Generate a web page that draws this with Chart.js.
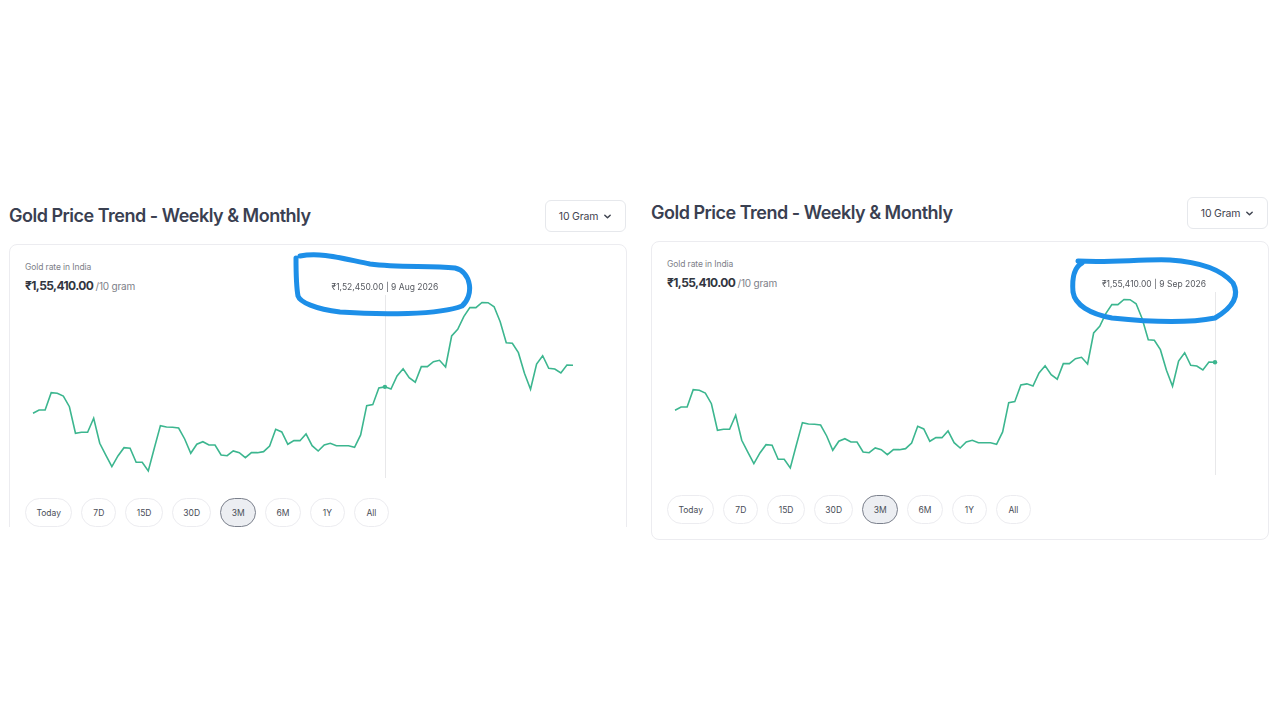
<!DOCTYPE html>
<html>
<head>
<meta charset="utf-8">
<script src="https://cdn.jsdelivr.net/npm/chart.js@4.4.1/dist/chart.umd.min.js"></script>
<style>
  html, body { margin: 0; padding: 0; background: #fff; }
  body { width: 1280px; height: 720px; position: relative; overflow: hidden; font-family: Inter, 'Noto Sans', sans-serif; }
  .panel { position: absolute; width: 640px; height: 560px; }
  .clip { position: absolute; left: 0; top: 0; width: 640px; height: 527px; overflow: hidden; }
  .title { position: absolute; left: 9px; top: 204px; margin: 0; font-size: 18px; line-height: 24px; font-weight: 600; color: #3a4051; white-space: nowrap; letter-spacing: -0.5px; }
  .unit { position: absolute; left: 545px; top: 200px; width: 81px; height: 32px; box-sizing: border-box; border: 1px solid #e6e8ec; border-radius: 6px; font-size: 10.5px; color: #3f4450; display: flex; align-items: center; justify-content: center; gap: 5px; letter-spacing: -0.2px; }
  .unit svg { width: 9px; height: 9px; }
  .card { position: absolute; left: 9px; top: 244px; width: 618px; height: 299px; box-sizing: border-box; border: 1px solid #ececf0; border-radius: 8px; }
  .sub { position: absolute; left: 25px; top: 261px; font-size: 8.5px; line-height: 12px; color: #7d8088; letter-spacing: -0.1px; }
  .price { position: absolute; left: 25px; top: 278px; font-size: 12px; line-height: 16px; font-weight: 700; color: #32363f; white-space: nowrap; letter-spacing: -0.6px; }
  .price span { font-size: 10px; font-weight: 400; color: #7d8088; letter-spacing: -0.2px; }
  canvas { position: absolute; left: 25px; top: 275px; }
  .ranges { position: absolute; left: 25px; top: 498px; display: flex; gap: 9px; }
  .ranges div { height: 29px; min-width: 35px; padding: 0 10.4px; box-sizing: border-box; border: 1px solid #ececf0; border-radius: 15px; font-size: 8.5px; color: #4a4e58; display: flex; align-items: center; justify-content: center; }
  .ranges div.on { background: #eceef2; border-color: #7b808c; }
  svg.ink { position: absolute; left: 0; top: 0; }
</style>
</head>
<body>
<svg class="ink" width="1280" height="720">
  <path d="M300 256 C 320 252, 340 258, 370 264 C 400 268, 430 265, 455 268 C 472 272, 474 296, 462 306 C 440 315, 380 315, 340 312 C 315 309, 300 302, 298 296 C 296 285, 296 268, 296 258"
        fill="none" stroke="#1d8fe8" stroke-width="5" stroke-linecap="round" stroke-linejoin="round"/>
  <path d="M1078 261 C 1110 263, 1140 259, 1170 260 C 1200 262, 1222 270, 1233 283 C 1240 296, 1232 308, 1215 318 C 1190 323, 1150 322, 1112 318 C 1090 314, 1075 305, 1073 292 C 1072 280, 1073 268, 1082 263"
        fill="none" stroke="#1d8fe8" stroke-width="5" stroke-linecap="round" stroke-linejoin="round"/>
</svg>
<script>
// 3M daily rate (10 gram), 12 Jun 2026 .. 9 Sep 2026
const startDate = new Date(2026, 5, 12);
const rangeLabels = ['Today', '7D', '15D', '30D', '3M', '6M', '1Y', 'All'];
const activeRange = '3M';
const prices = [
    148840, 149290, 149290, 151650, 151570, 151200, 149740, 146110, 146240, 146240,
    148160, 144740, 143140, 141550, 143010, 144140, 144060, 142150, 142150, 140960,
    144100, 147150, 146970, 146930, 146830, 145330, 143380, 144610, 144960, 144510,
    144510, 143140, 143050, 143690, 143460, 142780, 143460, 143460, 143600, 144370,
    146650, 146290, 144610, 145100, 145100, 146010, 144410, 143690, 144510, 144740,
    144410, 144410, 144410, 144200, 145880, 149880, 150020, 152300, 152450, 152160,
    153940, 154930, 153700, 153080, 155210, 155210, 155890, 156080, 155170, 159400,
    160320, 162040, 163270, 163270, 163980, 163950, 163400, 161350, 158480, 158400,
    157120, 154300, 152120, 155570, 156710, 154990, 154890, 154350, 155440, 155410
];
const currentPrice = 155410;
const monthNames = ['Jan', 'Feb', 'Mar', 'Apr', 'May', 'Jun', 'Jul', 'Aug', 'Sep', 'Oct', 'Nov', 'Dec'];
const dates = prices.map((p, i) => {
    const d = new Date(startDate.getFullYear(), startDate.getMonth(), startDate.getDate() + i);
    return d.getDate() + ' ' + monthNames[d.getMonth()] + ' ' + d.getFullYear();
});

// indian grouping: 1,55,410.00
function formatINR(v) {
    const s = Math.round(v).toString();
    let last3 = s.slice(-3);
    let rest = s.slice(0, -3);
    if (rest) rest = rest.replace(/\B(?=(\d{2})+(?!\d))/g, ',') + ',';
    return '\u20B9' + rest + last3 + '.00';
}

const hoverGuide = {
    id: 'hoverGuide',
    beforeDatasetsDraw(chart, args, opts) {
        const { ctx, chartArea } = chart;
        const pt = chart.getDatasetMeta(0).data[opts.index];
        ctx.save();
        ctx.strokeStyle = '#e8e8ea';
        ctx.lineWidth = 1;
        ctx.beginPath();
        ctx.moveTo(Math.round(pt.x) + 0.5, chartArea.top);
        ctx.lineTo(Math.round(pt.x) + 0.5, chartArea.bottom);
        ctx.stroke();
        ctx.restore();
    },
    afterDatasetsDraw(chart, args, opts) {
        const { ctx, chartArea } = chart;
        const pt = chart.getDatasetMeta(0).data[opts.index];
        ctx.save();
        ctx.fillStyle = '#3cb68f';
        ctx.beginPath();
        ctx.arc(pt.x, pt.y, 2.2, 0, Math.PI * 2);
        ctx.fill();
        const text = formatINR(prices[opts.index]) + ' | ' + dates[opts.index];
        ctx.font = '8.5px Inter, "Noto Sans", sans-serif';
        const w = ctx.measureText(text).width;
        let cx = Math.min(pt.x, chartArea.right - 9 - w / 2);
        cx = Math.max(cx, chartArea.left + w / 2);
        ctx.fillStyle = '#55585f';
        ctx.textAlign = 'center';
        ctx.textBaseline = 'middle';
        ctx.fillText(text, cx, chartArea.top - 8);
        ctx.restore();
    }
};

function buildPanel(left, top, hoverIndex, clipped) {
    const panel = document.createElement('div');
    panel.className = 'panel';
    panel.style.left = left + 'px';
    panel.style.top = top + 'px';
    const host = clipped ? document.createElement('div') : panel;
    if (clipped) { host.className = 'clip'; panel.appendChild(host); }

    host.innerHTML = `
        <h2 class="title">Gold Price Trend - Weekly &amp; Monthly</h2>
        <div class="unit">10 Gram <svg viewBox="0 0 10 10"><path d="M2 3.5 L5 6.5 L8 3.5" fill="none" stroke="#3f4450" stroke-width="1.6" stroke-linecap="round" stroke-linejoin="round"/></svg></div>
        <div class="card"></div>
        <div class="sub">Gold rate in India</div>
        <div class="price">${formatINR(currentPrice)} <span>/10 gram</span></div>
        <canvas width="556" height="210"></canvas>
        <div class="ranges">${rangeLabels.map(r => `<div class="${r === activeRange ? 'on' : ''}">${r}</div>`).join('')}</div>
    `;
    document.body.insertBefore(panel, document.querySelector('svg.ink'));

    const ctx = host.querySelector('canvas').getContext('2d');
    return new Chart(ctx, {
        type: 'line',
        data: {
            labels: dates,
            datasets: [{
                data: prices,
                borderColor: '#3cb68f',
                borderWidth: 1.6,
                pointRadius: 0,
                tension: 0,
                fill: false
            }]
        },
        options: {
            responsive: false,
            animation: false,
            layout: { padding: { left: 8, right: 8, top: 20, bottom: 7 } },
            scales: {
                x: { display: false },
                y: { display: false, min: 140000, max: 165000 }
            },
            plugins: {
                legend: { display: false },
                tooltip: { enabled: false },
                hoverGuide: { index: hoverIndex }
            }
        },
        plugins: [hoverGuide]
    });
}

buildPanel(0, 0, 58, true);
buildPanel(642, -3, prices.length - 1, false);
</script>
</body>
</html>
